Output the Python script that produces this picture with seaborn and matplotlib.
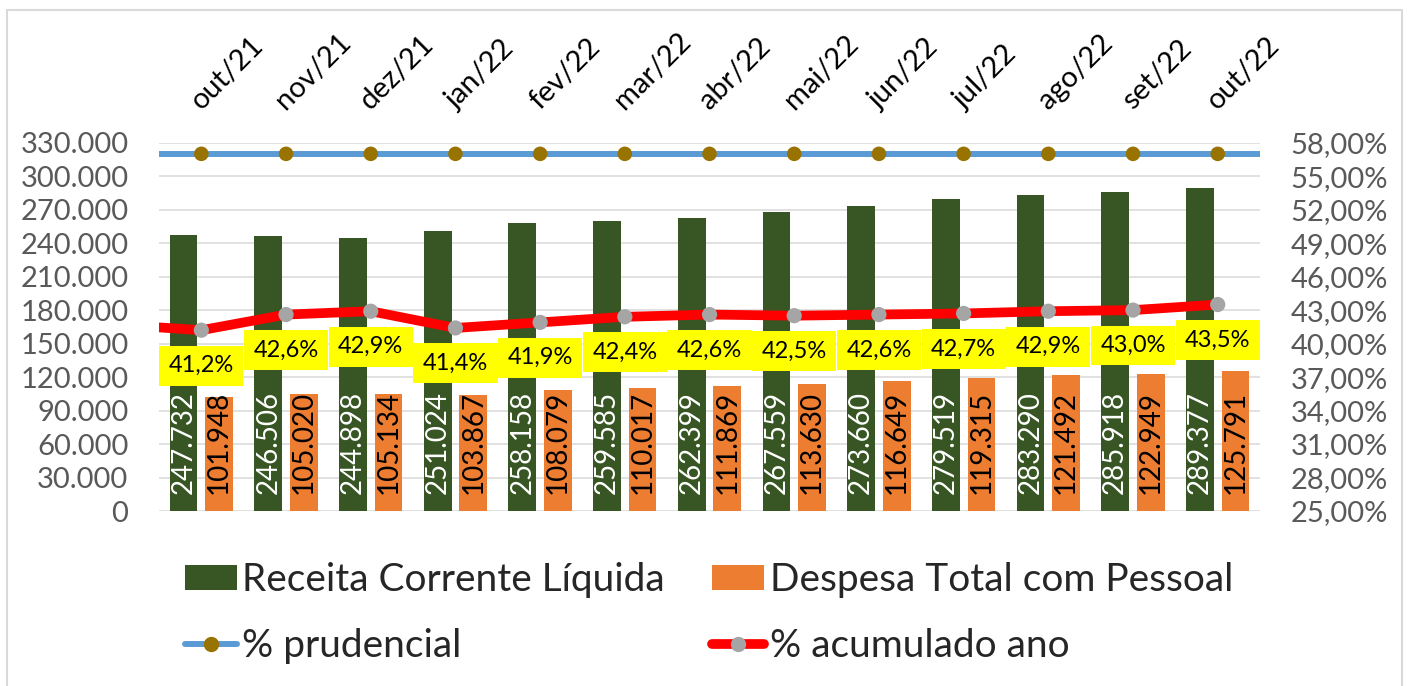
import matplotlib
matplotlib.use("Agg")
import matplotlib.pyplot as plt
import seaborn as sns
import pandas as pd
from matplotlib.patches import Patch, Rectangle
from matplotlib.lines import Line2D
from matplotlib.ticker import FuncFormatter

meses = ["out/21", "nov/21", "dez/21", "jan/22", "fev/22", "mar/22", "abr/22",
         "mai/22", "jun/22", "jul/22", "ago/22", "set/22", "out/22"]
receita = [247732, 246506, 244898, 251024, 258158, 259585, 262399,
           267559, 273660, 279519, 283290, 285918, 289377]
despesa = [101948, 105020, 105134, 103867, 108079, 110017, 111869,
           113630, 116649, 119315, 121492, 122949, 125791]
pct_acumulado = [41.2, 42.6, 42.9, 41.4, 41.9, 42.4, 42.6,
                 42.5, 42.6, 42.7, 42.9, 43.0, 43.5]
pct_anterior = 41.7  # set/21, only visible as the segment entering the chart
pct_prudencial = [57.0] * 13

ticks_valor = [0, 30000, 60000, 90000, 120000, 150000, 180000,
               210000, 240000, 270000, 300000, 330000]
ticks_pct = [25, 28, 31, 34, 37, 40, 43, 46, 49, 52, 55, 58]

serie_rcl = "Receita Corrente Líquida"
serie_dtp = "Despesa Total com Pessoal"

cores = {serie_rcl: "#375623", serie_dtp: "#ED7D31"}
GRID = "#D9D9D9"
TICK = "#595959"

sns.set_theme(style="white")
plt.rcParams["font.family"] = ["Lato", "DejaVu Sans"]

df = pd.DataFrame({
    "mes": meses * 2,
    "serie": [serie_rcl] * len(meses) + [serie_dtp] * len(meses),
    "valor": receita + despesa,
})

fig = plt.figure(figsize=(14.12, 6.86), dpi=100)
ax = fig.add_axes([0.1126, 0.2551, 0.8924 - 0.1126, 0.792 - 0.2551])

sns.barplot(data=df, x="mes", y="valor", hue="serie", palette=cores,
            width=0.84, gap=0.22, linewidth=0, saturation=1, ax=ax, legend=False)

ax.set_xlim(-0.5, len(meses) - 0.5)
ax.set_ylim(ticks_valor[0], ticks_valor[-1])
ax.set_yticks(ticks_valor)
ax.yaxis.set_major_formatter(FuncFormatter(lambda v, p: f"{int(v):,}".replace(",", ".")))
ax.grid(axis="y", color=GRID, linewidth=1.1)
ax.set_axisbelow(True)
ax.set_xlabel("")
ax.set_ylabel("")
for s in ax.spines.values():
    s.set_visible(False)

ax.xaxis.tick_top()
ax.set_xticks(range(len(meses)))
ax.set_xticklabels(meses, rotation=45, ha="left", va="baseline", rotation_mode="anchor")
ax.tick_params(axis="x", length=0, pad=23, labelsize=21, labelcolor="black")
ax.tick_params(axis="y", length=0, pad=22, labelsize=21, labelcolor=TICK)

# bar value labels at the base, rotated
for cont, valores, cor in zip(ax.containers, [receita, despesa], ["white", "black"]):
    for bar, v in zip(cont, valores):
        ax.annotate(f"{v:,}".replace(",", "."),
                    xy=(bar.get_x() + bar.get_width() / 2, 0),
                    xytext=(0, 12), textcoords="offset points",
                    rotation=90, ha="center", va="bottom",
                    fontsize=20, color=cor)

ax2 = ax.twinx()
ax2.set_ylim(ticks_pct[0], ticks_pct[-1])
ax2.set_yticks(ticks_pct)
ax2.yaxis.set_major_formatter(FuncFormatter(lambda v, p: f"{v:.2f}%".replace(".", ",")))
ax2.tick_params(axis="y", length=0, pad=22, labelsize=21, labelcolor=TICK)
ax2.set_ylabel("")
for s in ax2.spines.values():
    s.set_visible(False)

x_pos = list(range(len(meses)))

# prudential limit: full width line with markers at each month
ax2.axhline(pct_prudencial[0], color="#5B9BD5", linewidth=4.3, zorder=2)
sns.scatterplot(x=x_pos, y=pct_prudencial, color="#997300", s=110,
                edgecolor="none", ax=ax2, zorder=3)

# accumulated %: includes the previous month so the line enters from the left edge
sns.lineplot(x=[-1] + x_pos, y=[pct_anterior] + pct_acumulado, color="#FF0000",
             linewidth=7, ax=ax2, zorder=3)
sns.scatterplot(x=x_pos, y=pct_acumulado, color="#A5A5A5", s=120,
                edgecolor="none", ax=ax2, zorder=4)
ax2.set_xlim(-0.5, len(meses) - 0.5)

for xi, v in zip(x_pos, pct_acumulado):
    ax2.annotate(f"{v:.1f}%".replace(".", ","), xy=(xi, v),
                 xytext=(0, -25.5), textcoords="offset points",
                 ha="center", va="center", fontsize=17, color="black", zorder=5,
                 bbox=dict(boxstyle="square,pad=0.4", facecolor="#FFFF00", edgecolor="none"))

handles = [
    Patch(facecolor=cores[serie_rcl], edgecolor="none"),
    Line2D([], [], color="#5B9BD5", linewidth=4.3, marker="o", markersize=10,
           markerfacecolor="#997300", markeredgecolor="#997300", solid_capstyle="round"),
    Patch(facecolor=cores[serie_dtp], edgecolor="none"),
    Line2D([], [], color="#FF0000", linewidth=7, marker="o", markersize=10,
           markerfacecolor="#A5A5A5", markeredgecolor="#A5A5A5", solid_capstyle="round"),
]
labels = [serie_rcl, "% prudencial", serie_dtp, "% acumulado ano"]
fig.legend(handles, labels, loc="center", bbox_to_anchor=(0.502, 0.106), ncol=2,
           frameon=False, fontsize=28, handlelength=1.34, handleheight=0.62,
           handletextpad=0.15, columnspacing=1.2, labelspacing=0.78)

# light frame around the chart area
fig.patches.append(Rectangle((7 / 1412, -0.05), (1402 - 7) / 1412, 1.05 - 10 / 686,
                             transform=fig.transFigure, fill=False,
                             edgecolor=GRID, linewidth=1.5))

fig.savefig("out.png", dpi=100)
